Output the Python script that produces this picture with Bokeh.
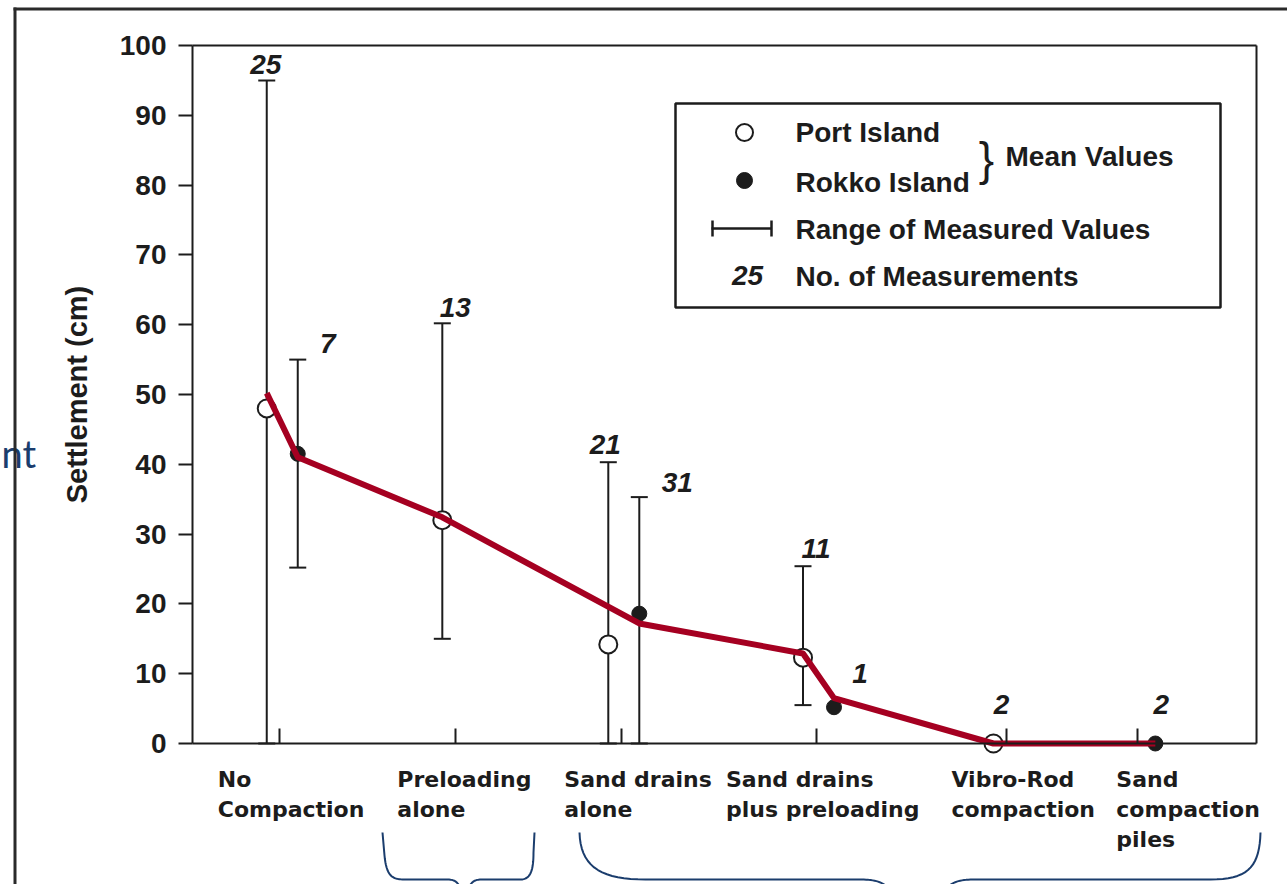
import numpy as np
from bokeh.plotting import figure
from bokeh.models import Range1d, FixedTicker, ColumnDataSource, Whisker, TeeHead
from bokeh.core.properties import value
from bokeh.embed import file_html
from bokeh.resources import INLINE

# ---------------- data ----------------
categories = ["No\nCompaction", "Preloading\nalone", "Sand drains\nalone",
              "Sand drains\nplus preloading", "Vibro-Rod\ncompaction",
              "Sand\ncompaction\npiles"]
cat_pos = [0.82, 2.47, 4.03, 5.86, 7.65, 8.88]

port_mean = [48.0, 32.0, 14.2, 12.3, 0.0, None]
port_low = [0.0, 15.0, 0.0, 5.5, None, None]
port_high = [95.0, 60.2, 40.3, 25.4, None, None]
port_count = [25, 13, 21, 11, 2, None]

rokko_mean = [41.5, None, 18.6, 5.2, None, 0.0]
rokko_low = [25.2, None, 0.0, None, None, None]
rokko_high = [55.0, None, 35.3, None, None, None]
rokko_count = [7, None, 31, 1, None, 2]

trend_cat = [0, 0, 1, 2, 3, 3, 4, 5]
trend_island = ["Port", "Rokko", "Port", "Rokko", "Port", "Rokko", "Port", "Rokko"]
trend_value = [50.2, 41.0, 32.4, 17.2, 12.9, 6.5, 0.0, 0.0]

y_ticks = [0, 10, 20, 30, 40, 50, 60, 70, 80, 90, 100]
y_label = "Settlement (cm)"
legend_labels = ["Port Island", "Rokko Island", "Range of Measured Values", "No. of Measurements"]
legend_group = "Mean Values"
legend_count_example = "25"
slide_text = "nt"

# ---------------- layout ----------------
W, H = 1287, 884
FL, FR, FT, FB = 192, 1256, 45, 743      # plotting area of the chart (pixels)
KX = (FR - FL) / 10.0
KY = (FB - FT) / 100.0
INK = "#1c1c1c"
NAVY = "#1B3D6D"
RED = "#A50021"
FONT = "Liberation Sans"

def dx(page_x):
    return (page_x - FL) / KX

def dy(page_y):
    return (FB - page_y) / KY

PORT_OFF = -13 / KX
ROKKO_OFF = 18 / KX
port_lab_off = [(-1, -16), (13, -16), (-3, -18), (13, -18), (8, -39), None]
rokko_lab_off = [(30, -16), None, (38, -15), (26, -34), None, (6, -39)]
cat_label_dx = [-62, -58, -57, -90, -55, -21]

p = figure(width=W, height=H, output_backend="svg", toolbar_location=None,
           x_range=Range1d(dx(0), dx(W)), y_range=Range1d(dy(H), dy(0)),
           min_border=0, min_border_left=0, min_border_right=0,
           min_border_top=0, min_border_bottom=0,
           background_fill_color="white", border_fill_color="white")
p.grid.visible = False
p.outline_line_color = None

# y axis (placed at x = 0 of the data)
p.yaxis.fixed_location = 0
p.yaxis.bounds = (0, 100)
p.yaxis.ticker = FixedTicker(ticks=y_ticks)
p.yaxis.minor_tick_line_color = None
p.yaxis.major_tick_in = 0
p.yaxis.major_tick_out = 14
p.yaxis.major_tick_line_width = 2
p.yaxis.major_tick_line_color = INK
p.yaxis.axis_line_width = 2
p.yaxis.axis_line_color = INK
p.yaxis.major_label_standoff = 12
p.yaxis.major_label_text_font = FONT
p.yaxis.major_label_text_font_style = "bold"
p.yaxis.major_label_text_font_size = "28px"
p.yaxis.major_label_text_color = INK
p.yaxis.axis_label = y_label
p.yaxis.axis_label_text_font = FONT
p.yaxis.axis_label_text_font_style = "bold"
p.yaxis.axis_label_text_font_size = "29px"
p.yaxis.axis_label_text_color = INK
p.yaxis.axis_label_standoff = 24

# x axis (placed at y = 0)
p.xaxis.fixed_location = 0
p.xaxis.bounds = (0, 10)
p.xaxis.ticker = FixedTicker(ticks=cat_pos)
p.xaxis.minor_tick_line_color = None
p.xaxis.major_tick_in = 15
p.xaxis.major_tick_out = 0
p.xaxis.major_tick_line_width = 2
p.xaxis.major_tick_line_color = INK
p.xaxis.axis_line_width = 2
p.xaxis.axis_line_color = INK
p.xaxis.major_label_overrides = {v: "" for v in cat_pos}

# top and right border of the chart box
p.segment(x0=[0, 10], y0=[100, 0], x1=[10, 10], y1=[100, 100], line_color=INK, line_width=2)

# ---------------- data marks ----------------
def pts(means, off):
    xs, ys = [], []
    for i, m in enumerate(means):
        if m is not None:
            xs.append(cat_pos[i] + off)
            ys.append(m)
    return xs, ys

def ranges(lows, highs, off):
    b, lo, hi = [], [], []
    for i, (l, h) in enumerate(zip(lows, highs)):
        if l is not None and h is not None:
            b.append(cat_pos[i] + off)
            lo.append(l)
            hi.append(h)
    return ColumnDataSource(dict(base=b, lower=lo, upper=hi))

for src in (ranges(port_low, port_high, PORT_OFF), ranges(rokko_low, rokko_high, ROKKO_OFF)):
    w = Whisker(source=src, base="base", lower="lower", upper="upper", dimension="height",
                line_color=INK, line_width=2, level="underlay",
                upper_head=TeeHead(size=17, line_color=INK, line_width=2),
                lower_head=TeeHead(size=17, line_color=INK, line_width=2))
    p.add_layout(w)

px_, py_ = pts(port_mean, PORT_OFF)
p.scatter(px_, py_, marker="circle", size=18, fill_color="white", line_color=INK, line_width=2)
rx_, ry_ = pts(rokko_mean, ROKKO_OFF)
p.scatter(rx_, ry_, marker="circle", size=15, fill_color=INK, line_color=INK)

def count_src(counts, means, highs, off, offs):
    d = dict(x=[], y=[], text=[], xo=[], yo=[])
    for i, n in enumerate(counts):
        if n is None:
            continue
        d["x"].append(cat_pos[i] + off)
        d["y"].append(highs[i] if highs[i] is not None else means[i])
        d["text"].append(str(n))
        d["xo"].append(offs[i][0])
        d["yo"].append(offs[i][1])
    return ColumnDataSource(d)

for src in (count_src(port_count, port_mean, port_high, PORT_OFF, port_lab_off),
            count_src(rokko_count, rokko_mean, rokko_high, ROKKO_OFF, rokko_lab_off)):
    p.text(x="x", y="y", text="text", x_offset="xo", y_offset="yo", source=src,
           text_font=value(FONT), text_font_style="bold italic", text_font_size="28px",
           text_color=INK, text_align="center", text_baseline="middle")

tx = [cat_pos[c] + (PORT_OFF if s == "Port" else ROKKO_OFF) for c, s in zip(trend_cat, trend_island)]
p.line(tx, trend_value, line_color=RED, line_width=6, line_join="round")

# ---------------- legend ----------------
p.quad(left=[dx(675)], right=[dx(1220)], top=[dy(103)], bottom=[dy(307)],
       fill_color=None, line_color=INK, line_width=2.5)
p.scatter([dx(744)], [dy(132)], marker="circle", size=17, fill_color="white", line_color=INK, line_width=2)
p.scatter([dx(744)], [dy(180)], marker="circle", size=16, fill_color=INK, line_color=INK)
p.segment(x0=[dx(711), dx(712), dx(771)], y0=[dy(228), dy(220), dy(220)],
          x1=[dx(771), dx(712), dx(771)], y1=[dy(228), dy(236), dy(236)],
          line_color=INK, line_width=2.5)
p.text([dx(747)], [dy(275)], text=[legend_count_example], text_font=value(FONT),
       text_font_style="bold italic", text_font_size="28px", text_color=INK,
       text_align="center", text_baseline="middle")
p.text([dx(795)] * 4, [dy(132), dy(182), dy(229), dy(276)], text=legend_labels,
       text_font=value(FONT), text_font_style="bold", text_font_size="28px",
       text_color=INK, text_align="left", text_baseline="middle")
p.text([dx(986)], [dy(158)], text=["}"], text_font=value(FONT), text_font_size="46px",
       text_color=INK, text_align="center", text_baseline="middle")
p.text([dx(1005)], [dy(156)], text=[legend_group], text_font=value(FONT),
       text_font_style="bold", text_font_size="28px", text_color=INK,
       text_align="left", text_baseline="middle")

# ---------------- category labels ----------------
lx, ly, lt = [], [], []
for i, lab in enumerate(categories):
    for k, line in enumerate(lab.split("\n")):
        lx.append(cat_pos[i] + cat_label_dx[i] / KX)
        ly.append(dy(779 + 30 * k))
        lt.append(line)
p.text(lx, ly, text=lt, text_font=value("DejaVu Sans"), text_font_style="bold",
       text_font_size="22px", text_color=INK, text_align="left", text_baseline="middle")

# ---------------- slide decorations ----------------
p.text([dx(1)], [dy(452)], text=[slide_text], text_font=value("Lato"),
       text_font_size="38px", text_color=NAVY, text_align="left", text_baseline="middle")
p.segment(x0=[dx(13), dx(14.5)], y0=[dy(8.5), dy(7)], x1=[dx(1290), dx(14.5)], y1=[dy(8.5), dy(890)],
          line_color="#2a2a2a", line_width=3)

def cubic(p0, p1, p2, p3, n=18):
    t = np.linspace(0, 1, n)[:, None]
    a = np.array
    return list(map(tuple, ((1 - t) ** 3) * a(p0) + 3 * ((1 - t) ** 2) * t * a(p1)
                    + 3 * (1 - t) * t ** 2 * a(p2) + t ** 3 * a(p3)))

brace_paths = [
    [(382, 832), (384, 855)] + cubic((384, 855), (386, 876), (392, 879), (404, 879)) + [(446, 879)]
    + cubic((446, 879), (454, 879), (457, 881), (460, 888)),
    cubic((468, 888), (471, 881), (474, 879), (482, 879)) + [(520, 879)]
    + cubic((520, 879), (530, 879), (533, 870), (533, 852)) + [(534, 832)],
    cubic((579, 832), (580, 866), (600, 879), (645, 879)) + [(858, 879)]
    + cubic((858, 879), (874, 879), (882, 881), (888, 888)),
    cubic((946, 888), (952, 881), (960, 879), (975, 879)) + [(1210, 879)]
    + cubic((1210, 879), (1248, 879), (1259, 866), (1260, 832)),
]
p.multi_line([[dx(a) for a, b in path] for path in brace_paths],
             [[dy(b) for a, b in path] for path in brace_paths],
             line_color=NAVY, line_width=2)

open("out.html", "w").write(file_html(p, INLINE))
